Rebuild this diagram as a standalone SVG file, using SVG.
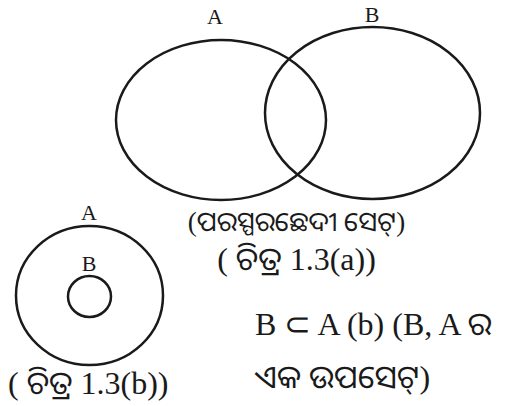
<svg xmlns="http://www.w3.org/2000/svg" width="509" height="406" viewBox="0 0 509 406">
<style>
.s{fill:none;stroke:#1a1a1a;stroke-width:2.5}
.t{font-family:"Liberation Serif","Noto Sans Oriya","Lohit Odia","Noto Sans",serif;fill:#1a1a1a}
</style>
<rect width="509" height="406" fill="#fff"/>
<g id="setA1"><ellipse class="s" cx="221" cy="120" rx="105" ry="80"/><text class="t" x="215" y="24" font-size="22" text-anchor="middle">A</text></g>
<g id="setB1"><ellipse class="s" cx="372.5" cy="113" rx="107.5" ry="86"/><text class="t" x="372" y="22" font-size="22" text-anchor="middle">B</text></g>
<g id="cap1">
<text class="t" x="296.5" y="231" font-size="27" text-anchor="middle">(ପରସ୍ପରଛେଦୀ ସେଟ୍)</text>
<text class="t" x="296.5" y="270" font-size="32" text-anchor="middle">( ଚିତ୍ର 1.3(a))</text>
</g>
<g id="setA2"><ellipse class="s" cx="89.5" cy="295.5" rx="73.5" ry="69.5"/><text class="t" x="89" y="220" font-size="22" text-anchor="middle">A</text></g>
<g id="setB2"><ellipse class="s" cx="89.5" cy="296.5" rx="21.5" ry="20.5"/><text class="t" x="89" y="271" font-size="22" text-anchor="middle">B</text></g>
<g id="cap2">
<text class="t" x="8" y="394" font-size="32">( ଚିତ୍ର 1.3(b))</text>
<text class="t" x="255" y="335" font-size="32">B ⊂ A (b) (B, A ର</text>
<text class="t" x="255" y="388" font-size="32">ଏକ ଉପସେଟ୍)</text>
</g>
<g id="connectors"/>
</svg>
